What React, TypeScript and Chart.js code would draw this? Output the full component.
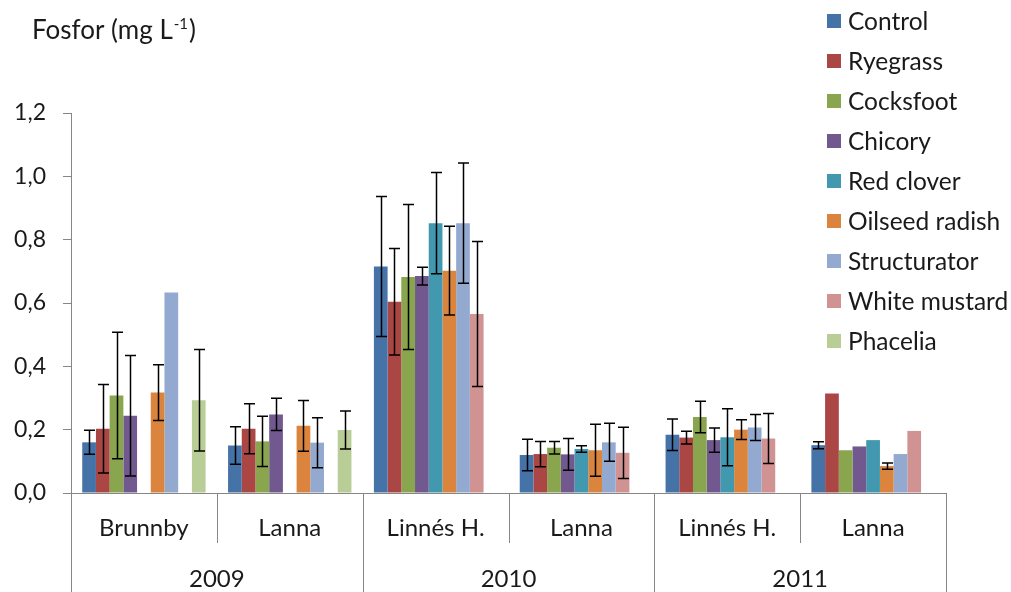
import React, { useEffect, useRef } from "react";
import { Chart, registerables } from "chart.js";

Chart.register(...registerables);

const categories = ["Brunnby", "Lanna", "Linnés H.", "Lanna", "Linnés H.", "Lanna"];
const years = ["2009", "2010", "2011"];
const yTicks = [0, 0.2, 0.4, 0.6, 0.8, 1.0, 1.2];

const seriesNames = ["Control", "Ryegrass", "Cocksfoot", "Chicory", "Red clover", "Oilseed radish", "Structurator", "White mustard", "Phacelia"];
const seriesColors = ["#4572A7", "#AA4643", "#89A54E", "#71588F", "#4198AF", "#DB843D", "#93A9CF", "#D19392", "#B9CD96"];

const control = [0.16, 0.15, 0.715, 0.12, 0.184, 0.151];
const controlErr = [0.038, 0.059, 0.221, 0.05, 0.05, 0.011];
const ryegrass = [0.203, 0.203, 0.604, 0.123, 0.175, 0.314];
const ryegrassErr = [0.14, 0.079, 0.168, 0.04, 0.02, null];
const cocksfoot = [0.308, 0.163, 0.682, 0.143, 0.24, 0.135];
const cocksfootErr = [0.2, 0.079, 0.229, 0.02, 0.05, null];
const chicory = [0.244, 0.248, 0.685, 0.122, 0.167, 0.147];
const chicoryErr = [0.19, 0.051, 0.028, 0.05, 0.038, null];
const redClover = [null, null, 0.852, 0.139, 0.176, 0.167];
const redCloverErr = [null, null, 0.16, 0.01, 0.09, null];
const oilseedRadish = [0.317, 0.212, 0.702, 0.135, 0.2, 0.085];
const oilseedRadishErr = [0.088, 0.08, 0.14, 0.082, 0.031, 0.01];
const structurator = [0.633, 0.159, 0.852, 0.16, 0.207, 0.123];
const structuratorErr = [null, 0.079, 0.19, 0.06, 0.041, null];
const whiteMustard = [null, null, 0.565, 0.127, 0.172, 0.196];
const whiteMustardErr = [null, null, 0.229, 0.081, 0.079, null];
const phacelia = [0.293, 0.199, null, null, null, null];
const phaceliaErr = [0.16, 0.06, null, null, null, null];

const seriesValues = [control, ryegrass, cocksfoot, chicory, redClover, oilseedRadish, structurator, whiteMustard, phacelia];
const seriesErrors = [controlErr, ryegrassErr, cocksfootErr, chicoryErr, redCloverErr, oilseedRadishErr, structuratorErr, whiteMustardErr, phaceliaErr];

const FONT = "Lato, 'Liberation Sans', sans-serif";
const AXIS = "#868686";
const TEXT = "#1a1a1a";

const overlayPlugin = {
  id: "overlay",
  afterDatasetsDraw(chart: any) {
    const ctx = chart.ctx;
    const y = chart.scales.y;
    ctx.save();
    ctx.strokeStyle = "#000";
    ctx.lineWidth = 1.5;
    chart.data.datasets.forEach((ds: any, di: number) => {
      const meta = chart.getDatasetMeta(di);
      const errs = seriesErrors[di];
      meta.data.forEach((bar: any, i: number) => {
        const v = ds.data[i];
        const e = errs[i];
        if (v == null || e == null) return;
        const cx = Math.round(bar.x) + 0.5;
        const top = y.getPixelForValue(v + e);
        const bot = y.getPixelForValue(v - e);
        const cap = 5.5;
        ctx.beginPath();
        ctx.moveTo(cx, top);
        ctx.lineTo(cx, bot);
        ctx.moveTo(cx - cap, top);
        ctx.lineTo(cx + cap, top);
        ctx.moveTo(cx - cap, bot);
        ctx.lineTo(cx + cap, bot);
        ctx.stroke();
      });
    });
    ctx.restore();
  },
  afterDraw(chart: any) {
    const ctx = chart.ctx;
    const x = chart.scales.x;
    const area = chart.chartArea;
    const H = chart.height;
    ctx.save();
    const n = categories.length;
    const bounds: number[] = [];
    for (let i = 0; i <= n; i++) {
      if (i === 0) bounds.push(area.left);
      else if (i === n) bounds.push(area.right);
      else bounds.push((x.getPixelForValue(i - 1) + x.getPixelForValue(i)) / 2);
    }
    ctx.strokeStyle = AXIS;
    ctx.lineWidth = 1;
    bounds.forEach((bx, i) => {
      const px = Math.round(bx) + 0.5;
      ctx.beginPath();
      ctx.moveTo(px, area.bottom);
      ctx.lineTo(px, i % 2 === 0 ? H : area.bottom + 50);
      ctx.stroke();
    });
    ctx.fillStyle = TEXT;
    ctx.textAlign = "center";
    ctx.textBaseline = "middle";
    ctx.font = `24px ${FONT}`;
    categories.forEach((c, i) => {
      ctx.fillText(c, x.getPixelForValue(i), area.bottom + 35);
    });
    years.forEach((yr, i) => {
      ctx.fillText(yr, (bounds[i * 2] + bounds[i * 2 + 2]) / 2, area.bottom + 86);
    });
    ctx.textAlign = "left";
    ctx.font = `26px ${FONT}`;
    const t1 = "Fosfor (mg L";
    ctx.fillText(t1, 32, 31);
    let tx = 32 + ctx.measureText(t1).width;
    ctx.font = `15px ${FONT}`;
    ctx.fillText("-1", tx + 1, 24);
    tx += ctx.measureText("-1").width + 2;
    ctx.font = `26px ${FONT}`;
    ctx.fillText(")", tx, 31);
    ctx.font = `24.5px ${FONT}`;
    seriesNames.forEach((name, i) => {
      const cy = 21 + i * 40;
      ctx.fillStyle = seriesColors[i];
      ctx.fillRect(827, cy - 7, 14, 14);
      ctx.fillStyle = TEXT;
      ctx.fillText(name, 848, cy + 1);
    });
    ctx.restore();
  },
};

export default function App() {
  const ref = useRef<HTMLCanvasElement>(null);
  useEffect(() => {
    if (!ref.current) return;
    const chart = new Chart(ref.current, {
      type: "bar",
      data: {
        labels: categories,
        datasets: seriesNames.map((name, i) => ({
          label: name,
          data: seriesValues[i],
          backgroundColor: seriesColors[i],
          borderWidth: 0,
          barPercentage: 1,
          categoryPercentage: 0.846,
        })),
      },
      options: {
        animation: false,
        responsive: false,
        maintainAspectRatio: false,
        layout: { padding: { top: 113, right: 65, left: 0, bottom: 0 } },
        plugins: { legend: { display: false }, tooltip: { enabled: false }, title: { display: false } },
        scales: {
          x: {
            type: "category",
            offset: true,
            grid: { display: false },
            ticks: { display: false },
            border: { display: true, color: AXIS, width: 1 },
            afterFit(scale: any) {
              scale.height = 99;
            },
          },
          y: {
            min: 0,
            max: 1.2,
            afterBuildTicks(scale: any) {
              scale.ticks = yTicks.map((v) => ({ value: v }));
            },
            afterFit(scale: any) {
              scale.width = 71;
            },
            grid: { drawOnChartArea: false, drawTicks: true, tickLength: 8, color: AXIS },
            border: { display: true, color: AXIS, width: 1 },
            ticks: {
              padding: 17,
              color: TEXT,
              font: { family: FONT, size: 23 },
              callback: (v: any) => Number(v).toFixed(1).replace(".", ","),
            },
          },
        },
      },
      plugins: [overlayPlugin],
    });
    return () => chart.destroy();
  }, []);
  return (
    <div style={{ position: "absolute", left: 0, top: 0, width: 1011, height: 592, background: "#fff" }}>
      <canvas ref={ref} width={1011} height={592} style={{ width: 1011, height: 592 }} />
    </div>
  );
}
